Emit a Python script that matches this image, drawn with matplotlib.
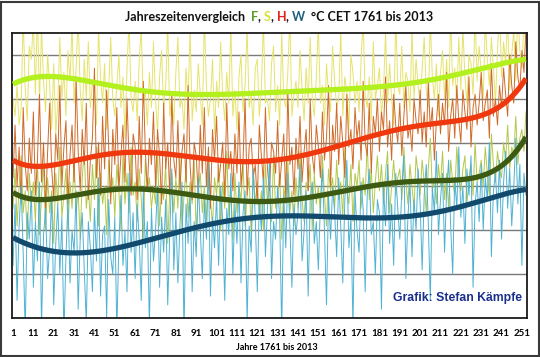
import numpy as np
import matplotlib
matplotlib.use("Agg")
import matplotlib.pyplot as plt
from matplotlib.patches import Rectangle

# ---------------- data (chart units, gridlines at 1..6) ----------------
years = np.arange(1, 254)
tick_years = list(range(1, 252, 10))

summer = [
    5.0, 4.6, 5.3, 4.4, 4.8, 6.9, 5.2, 4.5, 6.2, 5.9,
    6.8, 5.1, 7.0, 4.9, 6.6, 5.4, 4.7, 6.0, 5.3, 4.3,
    5.8, 4.2, 4.9, 6.4, 5.0, 5.6, 4.6, 6.1, 5.4, 6.7,
    4.9, 5.7, 6.9, 5.2, 4.5, 5.9, 5.0, 6.3, 4.8, 5.4,
    5.1, 4.4, 6.6, 5.5, 4.9, 5.8, 4.3, 5.2, 6.4, 5.0,
    4.6, 5.3, 6.0, 4.8, 5.5, 4.1, 5.7, 6.8, 5.0, 4.7,
    5.4, 4.5, 5.9, 6.6, 4.9, 5.2, 4.4, 5.6, 4.8, 6.3,
    5.0, 4.2, 5.5, 6.1, 4.7, 5.3, 6.7, 4.6, 5.1, 4.4,
    5.6, 6.4, 4.8, 5.0, 4.3, 5.7, 4.9, 6.6, 4.5, 5.2,
    4.7, 5.8, 5.1, 4.4, 6.9, 5.3, 4.6, 5.0, 5.9, 4.2,
    5.4, 4.8, 6.3, 5.1, 4.5, 5.6, 4.9, 6.7, 4.6, 5.2,
    4.3, 5.5, 6.0, 4.7, 5.3, 6.6, 4.8, 5.1, 4.4, 5.7,
    5.9, 4.6, 5.2, 6.8, 4.9, 5.0, 4.5, 5.8, 6.2, 4.7,
    5.3, 4.4, 6.5, 5.0, 4.8, 5.6, 6.9, 4.6, 5.1, 5.4,
    4.8, 6.1, 5.2, 4.5, 5.7, 4.9, 6.4, 5.0, 4.6, 5.5,
    6.7, 4.9, 5.3, 4.4, 5.8, 5.1, 4.7, 6.2, 5.4, 4.8,
    5.0, 6.6, 4.6, 5.5, 5.2, 4.3, 6.0, 5.6, 4.9, 5.4,
    4.7, 5.9, 6.8, 5.1, 4.8, 5.5, 4.5, 6.3, 5.0, 5.3,
    5.7, 4.6, 5.2, 6.5, 4.9, 5.8, 5.0, 4.4, 6.9, 5.3,
    5.1, 6.2, 4.8, 5.6, 5.4, 4.7, 6.6, 5.0, 5.9, 5.3,
    4.9, 5.7, 6.4, 5.2, 4.8, 6.8, 5.5, 5.0, 5.8, 4.6,
    5.6, 6.1, 5.0, 5.9, 4.8, 6.9, 5.3, 5.7, 4.9, 6.4,
    5.2, 6.6, 5.5, 4.9, 6.0, 5.8, 5.1, 7.0, 5.4, 6.2,
    5.6, 5.0, 6.8, 5.9, 5.3, 6.4, 5.7, 4.9, 6.1, 7.1,
    5.5, 6.3, 5.8, 6.9, 5.2, 6.0, 6.6, 5.4, 7.0, 6.1,
    5.7, 6.8, 6.2,
]

autumn = [
    3.2, 4.4, 3.0, 3.9, 2.6, 4.8, 3.5, 2.9, 4.1, 3.3,
    4.7, 2.8, 3.6, 5.1, 3.1, 4.0, 2.5, 3.8, 4.9, 3.4,
    2.7, 4.2, 3.6, 5.3, 3.0, 3.9, 4.5, 2.6, 3.7, 4.4,
    3.1, 5.5, 3.8, 2.9, 4.3, 3.5, 4.9, 2.7, 3.6, 4.1,
    5.7, 3.2, 4.0, 2.8, 4.6, 3.4, 5.2, 3.9, 2.6, 4.3,
    3.5, 4.8, 2.9, 3.7, 4.4, 3.1, 5.0, 3.6, 2.8, 4.2,
    3.9, 2.7, 4.6, 3.3, 5.4, 3.8, 2.9, 4.1, 3.5, 4.7,
    3.0, 4.3, 3.7, 2.6, 4.9, 3.4, 4.0, 2.8, 5.1, 3.6,
    3.2, 4.5, 2.9, 3.8, 4.2, 3.1, 5.3, 3.5, 2.7, 4.0,
    3.7, 2.8, 4.4, 3.3, 4.8, 3.0, 3.9, 2.5, 4.3, 3.6,
    4.6, 3.1, 3.5, 4.0, 2.7, 4.9, 3.4, 3.8, 2.9, 4.2,
    3.3, 4.7, 3.0, 3.6, 5.0, 2.8, 3.9, 4.1, 3.2, 3.5,
    2.6, 4.4, 3.7, 3.1, 4.8, 3.4, 2.9, 4.0, 3.8, 3.3,
    4.5, 3.0, 3.6, 4.2, 2.7, 5.2, 3.5, 3.9, 2.8, 4.1,
    3.4, 4.6, 3.1, 3.8, 4.3, 2.9, 5.0, 3.7, 3.3, 4.4,
    3.9, 3.2, 4.7, 3.6, 4.1, 5.3, 3.0, 4.4, 3.8, 4.9,
    3.5, 4.6, 4.0, 3.2, 5.1, 3.9, 4.3, 3.4, 4.8, 4.1,
    4.5, 3.6, 5.4, 4.0, 3.7, 4.9, 3.3, 4.6, 4.2, 5.0,
    3.8, 4.7, 4.3, 5.5, 3.9, 4.5, 3.6, 5.1, 4.4, 4.0,
    4.9, 3.7, 4.6, 5.3, 4.1, 4.4, 3.8, 5.0, 4.5, 4.2,
    5.2, 4.0, 4.7, 3.9, 5.4, 4.3, 4.8, 3.6, 4.5, 5.1,
    4.2, 4.9, 4.4, 5.6, 3.8, 4.6, 5.0, 4.1, 5.3, 4.5,
    4.0, 5.2, 4.7, 4.3, 5.5, 3.9, 4.8, 5.1, 4.4, 4.9,
    5.6, 4.5, 4.9, 5.2, 4.1, 5.8, 4.6, 5.0, 4.4, 5.3,
    4.8, 5.7, 5.1, 4.6, 6.0, 5.3, 4.9, 6.3, 5.5, 5.2,
    6.1, 5.6, 6.6,
]

spring = [
    2.5, 3.4, 2.1, 3.0, 3.7, 2.4, 2.9, 1.8, 3.3, 2.6,
    3.1, 2.2, 3.6, 1.9, 2.8, 3.5, 2.0, 3.2, 2.4, 2.9,
    1.7, 3.3, 2.6, 3.9, 2.3, 2.8, 3.4, 2.0, 3.1, 2.5,
    3.6, 2.4, 2.9, 1.8, 3.2, 3.8, 2.5, 3.0, 2.2, 3.5,
    2.7, 3.9, 2.1, 3.3, 2.6, 3.0, 1.9, 3.6, 2.8, 3.2,
    2.3, 3.5, 2.9, 2.0, 3.7, 2.6, 3.3, 2.4, 3.9, 2.8,
    3.1, 2.2, 3.4, 2.7, 1.8, 3.6, 2.9, 3.2, 2.5, 3.0,
    2.6, 3.8, 2.1, 3.0, 2.7, 3.5, 1.7, 2.9, 3.3, 2.4,
    3.2, 2.5, 3.7, 2.0, 2.8, 3.4, 2.3, 3.1, 2.6, 3.6,
    1.9, 2.9, 3.3, 2.4, 3.0, 2.2, 3.6, 2.7, 2.1, 3.2,
    2.8, 3.5, 2.0, 3.1, 2.5, 3.8, 2.3, 2.9, 1.8, 3.3,
    2.4, 3.0, 2.7, 3.6, 2.1, 2.8, 3.2, 1.9, 3.4, 2.6,
    3.1, 2.3, 2.9, 2.0, 3.5, 2.6, 3.0, 2.2, 3.7, 2.5,
    2.8, 3.3, 1.8, 3.0, 2.6, 3.6, 2.4, 2.9, 2.1, 3.2,
    2.5, 3.8, 2.7, 2.2, 3.1, 2.9, 3.5, 2.0, 3.3, 2.6,
    3.0, 2.4, 3.7, 2.8, 2.1, 3.4, 2.9, 3.2, 2.5, 3.6,
    2.7, 3.1, 2.3, 3.9, 2.9, 2.6, 3.5, 2.2, 3.3, 3.0,
    3.6, 2.5, 3.2, 2.8, 4.0, 2.7, 3.4, 2.4, 3.1, 3.7,
    2.9, 3.5, 2.6, 3.3, 3.8, 2.4, 3.0, 3.6, 2.8, 3.2,
    3.4, 2.7, 3.9, 3.1, 2.6, 3.5, 3.0, 2.5, 3.7, 3.3,
    2.8, 3.6, 3.1, 2.4, 3.4, 4.1, 2.9, 3.2, 2.6, 3.5,
    3.0, 3.8, 2.7, 3.3, 2.5, 3.6, 3.1, 2.8, 3.9, 3.2,
    2.9, 3.4, 3.7, 2.6, 3.2, 3.5, 2.8, 4.0, 3.1, 3.3,
    3.6, 3.0, 3.9, 3.3, 2.8, 4.2, 3.5, 3.1, 3.8, 3.4,
    3.2, 4.0, 3.6, 4.4, 3.4, 3.9, 3.7, 4.6, 3.5, 4.1,
    4.3, 3.8, 4.7,
]

winter = [
    1.2, 2.6, 0.4, 2.1, 3.0, 1.5, -0.3, 2.4, 1.8, 2.9,
    0.7, 2.2, 1.3, 3.1, -0.2, 1.9, 2.5, 0.9, 1.6, 2.8,
    0.3, 1.7, 2.6, 1.0, 2.3, -0.4, 1.4, 2.7, 0.8, 2.0,
    1.5, 2.9, 0.2, 1.8, 2.4, 1.1, -0.1, 2.2, 1.6, 0.6,
    2.5, 1.3, 3.2, 0.5, 1.9, 2.1, 0.0, 2.7, 1.4, 1.0,
    2.3, -0.3, 1.7, 2.8, 1.2, 2.0, 0.6, 3.3, 1.5, 2.4,
    0.9, 2.6, 1.8, 0.4, 2.9, 1.6, 2.2, -0.2, 2.5, 1.3,
    2.0, 3.0, 0.7, 2.3, 1.5, 2.7, 0.3, 1.9, 3.4, 1.1,
    2.4, 0.8, 2.1, 3.1, -0.4, 2.6, 1.7, 2.9, 0.6, 2.2,
    1.4, 3.2, 2.0, 0.9, 2.7, 1.8, 3.5, 0.5, 2.3, 1.6,
    2.8, 1.2, 3.0, 2.2, 0.4, 2.5, 1.9, 3.3, 1.0, 2.6,
    1.7, 3.1, 0.8, 2.4, 2.9, -0.1, 2.1, 1.5, 3.4, 2.3,
    0.6, 2.7, 2.0, 3.2, 1.4, 2.5, 3.6, 0.9, 2.2, 1.8,
    3.0, 2.3, -0.3, 2.8, 1.6, 3.3, 2.1, 0.7, 2.6, 1.9,
    2.4, 3.5, 1.3, 2.0, 2.9, 0.5, 2.7, 3.1, 1.7, 2.2,
    1.1, 2.6, 3.4, 2.0, 0.3, 2.8, 1.8, 3.0, 2.4, 1.4,
    3.2, 2.1, 0.8, 2.7, 3.6, 1.6, 2.3, -0.2, 2.9, 2.0,
    1.5, 3.1, 2.5, 0.6, 2.8, 3.4, 1.9, 2.2, 1.0, 2.7,
    2.4, 0.2, 3.0, 2.1, 3.5, 1.7, 2.6, 1.2, 3.3, 2.5,
    1.8, 2.9, 3.7, 0.9, 2.3, 3.1, 1.4, 2.7, 2.0, 3.4,
    2.6, 1.1, 2.8, 3.5, 2.2, 0.4, 3.0, 2.4, 3.8, 1.9,
    2.7, 3.3, 1.5, 2.9, 3.6, 2.1, 1.0, 3.2, 2.5, 3.9,
    2.3, 3.0, 1.7, 3.4, 2.8, 3.7, 0.7, 2.6, 3.1, 2.2,
    3.5, 2.0, 3.2, 2.7, 4.0, 1.4, 2.9, 3.3, 2.4, 3.6,
    1.8, 3.1, 3.8, 2.5, 3.4, 2.1, 3.0, 4.1, 2.6, 3.5,
    1.2, 3.3, 2.8,
]

# trend-line values at these years
summer_trend_years = [1, 19, 44, 61, 94, 127, 160, 193, 226, 243, 253]
summer_trend = [5.33, 5.52, 5.34, 5.20, 5.11, 5.14, 5.20, 5.34, 5.64, 5.80, 5.91]
autumn_trend_years = [1, 16, 44, 61, 94, 127, 160, 193, 226, 243, 253]
autumn_trend = [3.59, 3.48, 3.70, 3.77, 3.66, 3.59, 3.89, 4.34, 4.57, 4.89, 5.48]
spring_trend_years = [1, 16, 44, 61, 94, 127, 160, 193, 226, 243, 253]
spring_trend = [2.86, 2.70, 2.91, 2.93, 2.77, 2.68, 2.84, 3.11, 3.20, 3.52, 4.14]
winter_trend_years = [1, 16, 33, 44, 61, 94, 127, 160, 193, 226, 253]
winter_trend = [1.84, 1.55, 1.48, 1.55, 1.70, 2.07, 2.34, 2.30, 2.30, 2.61, 2.93]

# ---------------- figure ----------------
W, H = 540, 357
fig = plt.figure(figsize=(W / 100, H / 100), dpi=100)
fig.patch.set_facecolor("white")

ax = fig.add_axes([12 / W, 1 - 318 / H, 515 / W, 285 / H])

thin = [
    (spring, "#b2c84a"),
    (summer, "#e6e36a"),
    (autumn, "#d06a28"),
    (winter, "#4eb2d2"),
]
for series, col in thin:
    ax.plot(years, series, color=col, lw=0.7, zorder=2)


def trend(yrs, vals):
    t = (np.asarray(yrs, float) - 127) / 126
    c = np.polyfit(t, vals, 6)
    xs = np.linspace(1, 253, 500)
    return xs, np.polyval(c, (xs - 127) / 126)


thick = [
    (spring_trend_years, spring_trend, "#3d5a12"),
    (summer_trend_years, summer_trend, "#b2f01e"),
    (autumn_trend_years, autumn_trend, "#f0380f"),
    (winter_trend_years, winter_trend, "#124a6e"),
]
for yrs, vals, col in thick:
    xs, ys = trend(yrs, vals)
    ax.plot(xs, ys, color=col, lw=3.8, solid_capstyle="butt", zorder=4)

ax.set_xlim(0.5, 253.5)
ax.set_ylim(0, 6.5)
ax.set_yticks([1, 2, 3, 4, 5, 6])
ax.set_yticklabels([])
ax.yaxis.grid(True, color="#7a7a7a", lw=1.0, zorder=1)
ax.set_axisbelow(True)
ax.tick_params(axis="y", length=0)
ax.set_xticks(tick_years)
ax.set_xticklabels([str(v) for v in tick_years], fontsize=7, fontweight="bold",
                   family="Lato")
ax.tick_params(axis="x", length=0, pad=8)
for sp in ax.spines.values():
    sp.set_color("#1a1a1a")
    sp.set_linewidth(1.3)

fig.text(277 / W, 1 - 347 / H, "Jahre 1761 bis 2013", ha="center", va="center",
         fontsize=6.5, fontweight="bold", family="Lato")

fig.text(522 / W, 1 - 298 / H, "Grafik: Stefan Kämpfe", ha="right", va="center",
         fontsize=8.8, fontweight="bold", color="#1a2f8c", family="Liberation Sans",
         zorder=6)

# multi-coloured title
pieces = [
    ("Jahreszeitenvergleich  ", "#111111"),
    ("F", "#5a9e2a"),
    (", ", "#111111"),
    ("S", "#d8e03a"),
    (", ", "#111111"),
    ("H", "#e0261a"),
    (", ", "#111111"),
    ("W", "#1f5f80"),
    ("  °C CET 1761 bis 2013", "#111111"),
]
renderer = fig.canvas.get_renderer()
tkw = dict(fontsize=9, fontweight="bold", family="Lato", va="center", ha="left")


def width_of(s):
    t = fig.text(0, 0, s + "|", **tkw)
    w1 = t.get_window_extent(renderer).width
    t.remove()
    t = fig.text(0, 0, "|", **tkw)
    w2 = t.get_window_extent(renderer).width
    t.remove()
    return w1 - w2


full = "".join(p[0] for p in pieces)
total = width_of(full)
x0 = 279 - total / 2
prefix = ""
for s, c in pieces:
    xo = x0 + width_of(prefix)
    fig.text(xo / W, 1 - 17 / H, s, color=c, **tkw)
    prefix += s

# outer frame
fig.patches.append(Rectangle((1 / W, 1 / H), (W - 2.5) / W, (H - 2.5) / H,
                             transform=fig.transFigure, fill=False,
                             edgecolor="#3a3a3a", lw=1.5))

fig.savefig("out.png", dpi=100)
